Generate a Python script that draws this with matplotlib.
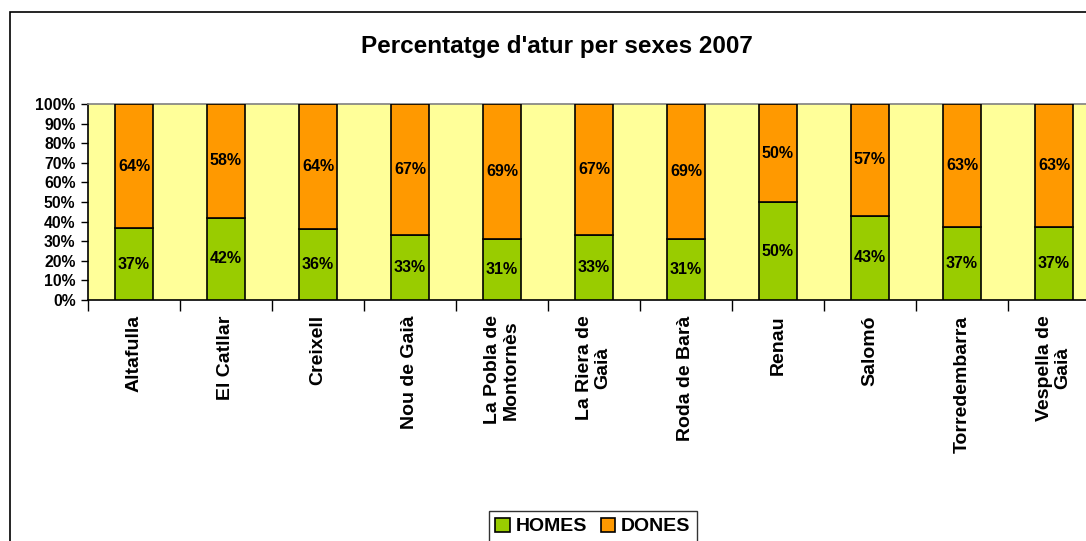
import matplotlib
matplotlib.use("Agg")
import matplotlib.pyplot as plt
from matplotlib.patches import Rectangle
import numpy as np

plt.rcParams['font.family'] = ['Liberation Sans', 'DejaVu Sans']

categories = ["Altafulla", "El Catllar", "Creixell", "Nou de Gaià", "La Pobla de\nMontornès",
              "La Riera de\nGaià", "Roda de Barà", "Renau", "Salomó", "Torredembarra", "Vespella de\nGaià"]
homes = [37, 42, 36, 33, 31, 33, 31, 50, 43, 37, 37]
dones = [64, 58, 64, 67, 69, 67, 69, 50, 57, 63, 63]
yticks = [0, 10, 20, 30, 40, 50, 60, 70, 80, 90, 100]

W, H = 1086, 541
fig = plt.figure(figsize=(W/100, H/100), dpi=100)

# outer chart border (cut off at right and bottom)
fig.patches.append(Rectangle((10/W, -0.1), 2, 1 - 12/H + 0.1, transform=fig.transFigure,
                             fill=False, edgecolor='black', linewidth=1.2))

left, right, top, bottom = 88, 1100, 104, 300
ax = fig.add_axes([left/W, 1 - bottom/H, (right-left)/W, (bottom-top)/H])
ax.set_facecolor('#FFFF99')

x = np.arange(len(categories))
tot = np.array(homes, float) + np.array(dones, float)
h = np.array(homes) / tot * 100
d = np.array(dones) / tot * 100
bw = 0.41
ax.bar(x, h, bw, color='#99CC00', edgecolor='black', linewidth=1.2, label='HOMES', zorder=3)
ax.bar(x, d, bw, bottom=h, color='#FF9900', edgecolor='black', linewidth=1.2, label='DONES', zorder=3)

for i in range(len(x)):
    ax.text(x[i], h[i]/2, f"{homes[i]}%", ha='center', va='center', fontsize=11.5, fontweight='bold', zorder=4)
    ax.text(x[i], h[i] + d[i]/2, f"{dones[i]}%", ha='center', va='center', fontsize=11.5, fontweight='bold', zorder=4)

ax.set_xlim(-0.5, len(categories) - 0.5)
ax.set_ylim(0, 100)
ax.set_yticks(yticks)
ax.set_yticklabels([f"{v}%" for v in yticks], fontsize=11.3, fontweight='bold')
ax.set_xticks(np.arange(-0.5, len(categories)), minor=False)
ax.set_xticklabels([])
ax.set_xticks(x, minor=True)
ax.set_xticklabels(categories, minor=True, rotation=90, fontsize=14, fontweight='bold',
                   va='top', ha='center', linespacing=1.1)
ax.tick_params(axis='x', which='minor', length=0, pad=11)
ax.tick_params(axis='x', which='major', length=8, width=1, direction='out', color='black')
ax.tick_params(axis='y', length=5, width=1, direction='out', pad=4)

for s in ['left', 'bottom']:
    ax.spines[s].set_color('black')
    ax.spines[s].set_linewidth(1.2)
ax.spines['top'].set_color('#808080')
ax.spines['top'].set_linewidth(1.2)
ax.spines['right'].set_visible(False)

fig.text(557/W, 1 - 47/H, "Percentatge d'atur per sexes 2007", ha='center', va='center',
         fontsize=17.5, fontweight='bold')

leg = fig.legend(loc='upper center', bbox_to_anchor=(593/W, 1 - 501/H), ncol=2,
                 prop={'size': 14, 'weight': 'bold'}, frameon=True, fancybox=False,
                 handlelength=0.75, handleheight=0.75, handletextpad=0.3, columnspacing=0.7,
                 borderpad=0.35, edgecolor='black')
leg.get_frame().set_linewidth(1.0)

fig.savefig("out.png", dpi=100)
